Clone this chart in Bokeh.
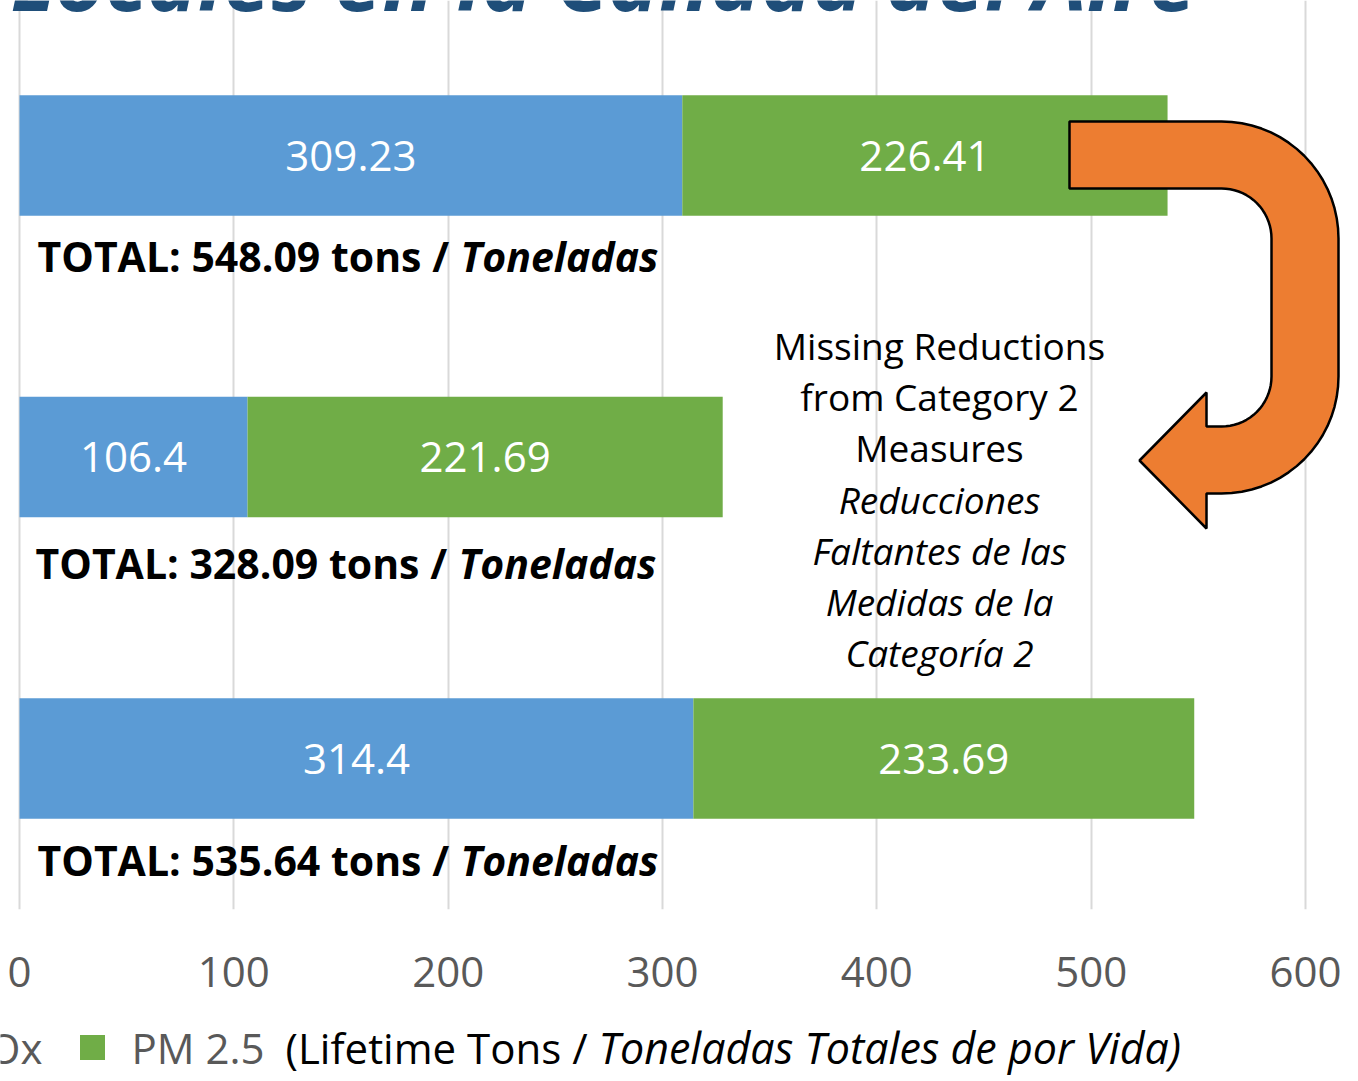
import math
from bokeh.plotting import figure
from bokeh.layouts import column
from bokeh.models import Range1d, FixedTicker
from bokeh.core.properties import value
from bokeh.embed import file_html
from bokeh.resources import INLINE

# ---------------- data ----------------
scenarios = [0, 1, 2]  # category index, top to bottom
nox = [309.23, 106.4, 314.4]
pm25 = [226.41, 221.69, 233.69]
total_text = ["TOTAL: 548.09 tons / ", "TOTAL: 328.09 tons / ", "TOTAL: 535.64 tons / "]
total_italic = ["Toneladas", "Toneladas", "Toneladas"]
x_ticks = [0, 100, 200, 300, 400, 500, 600]
note_en = ["Missing Reductions", "from Category 2", "Measures"]
note_es = ["Reducciones", "Faltantes de las", "Medidas de la", "Categoría 2"]
title_text = "Locales en la Calidad del Aire"
legend_names = ["NOx", "PM 2.5"]
legend_colors = ["#5B9BD5", "#70AD47"]
legend_note = "(Lifetime Tons /"
legend_note_it = "Toneladas Totales de por Vida)"

# ---------------- styling / layout ----------------
BLUE = "#5B9BD5"
GREEN = "#70AD47"
ORANGE = "#ED7D31"
GREY = "#595959"
FONT = value("Open Sans")
W = 1358
H_MAIN = 1020
H_LEG = 61
FRAME_BOTTOM = 909


def dx(sx):  # pixel -> data x
    return (sx - 19) * 600.0 / 1286.0


def dy(sy):  # pixel -> data y (category units)
    return (sy - 155) / 301.5


p = figure(width=W, height=H_MAIN, output_backend="svg", toolbar_location=None,
           x_range=Range1d(dx(0), dx(W)),
           y_range=Range1d(dy(FRAME_BOTTOM), dy(0)),
           min_border_left=0, min_border_right=0, min_border_top=0,
           min_border_bottom=H_MAIN - FRAME_BOTTOM, y_axis_location=None)
p.outline_line_color = None
p.background_fill_color = "white"
p.border_fill_color = "white"
p.ygrid.visible = False
p.xgrid.ticker = FixedTicker(ticks=x_ticks)
p.xgrid.grid_line_color = "#D9D9D9"
p.xgrid.grid_line_width = 2

ax = p.xaxis[0]
ax.ticker = FixedTicker(ticks=x_ticks)
ax.axis_line_color = None
ax.major_tick_line_color = None
ax.minor_tick_line_color = None
ax.major_tick_out = 0
ax.major_tick_in = 0
ax.major_label_standoff = 47
ax.major_label_text_font = "Open Sans"
ax.major_label_text_font_size = "42px"
ax.major_label_text_color = GREY

# title (cut off at top of page)
p.text(x=[dx(10)], y=[dy(35)], text=[title_text], text_font=FONT,
       text_font_size="86px", text_font_style="bold italic", text_color="#1F4E79",
       text_align="left", text_baseline="bottom")

# bars
totals = [a + b for a, b in zip(nox, pm25)]
p.hbar(y=scenarios, left=0, right=nox, height=0.4, fill_color=BLUE, line_color=None)
p.hbar(y=scenarios, left=nox, right=totals, height=0.4, fill_color=GREEN, line_color=None)

# value labels
p.text(x=[v / 2 for v in nox], y=scenarios, text=[str(v) for v in nox],
       text_font=FONT, text_font_size="42px", text_color="white",
       text_align="center", text_baseline="middle")
p.text(x=[a + b / 2 for a, b in zip(nox, pm25)], y=scenarios, text=[str(v) for v in pm25],
       text_font=FONT, text_font_size="42px", text_color="white",
       text_align="center", text_baseline="middle")

# TOTAL labels
tot_y = [dy(255), dy(562), dy(859)]
tot_x0 = [dx(37), dx(35), dx(37)]
tot_x1 = [dx(658), dx(656), dx(658)]
p.text(x=tot_x0, y=tot_y, text=total_text, text_font=FONT, text_font_size="41px",
       text_font_style="bold", text_color="black", text_align="left", text_baseline="middle")
p.text(x=tot_x1, y=tot_y, text=total_italic, text_font=FONT, text_font_size="41px",
       text_font_style="bold italic", text_color="black", text_align="right",
       text_baseline="middle")

# note text
lines = note_en + note_es
styles = ["normal"] * len(note_en) + ["italic"] * len(note_es)
p.text(x=[dx(939)] * len(lines), y=[dy(345 + 51.2 * k) for k in range(len(lines))],
       text=lines, text_font=FONT, text_font_size="37px", text_font_style=styles,
       text_color="black", text_align="center", text_baseline="middle")

# U-turn arrow (built in pixels, converted through the scales)
pts = [(1069, 121)]
for a in range(-90, 1, 5):
    t = math.radians(a)
    pts.append((1221 + 117 * math.cos(t), 238 + 117 * math.sin(t)))
for a in range(0, 91, 5):
    t = math.radians(a)
    pts.append((1221 + 117 * math.cos(t), 376 + 117 * math.sin(t)))
pts += [(1206, 493), (1206, 528), (1139, 460), (1206, 392), (1206, 426)]
for a in range(90, -1, -5):
    t = math.radians(a)
    pts.append((1221 + 50 * math.cos(t), 376 + 50 * math.sin(t)))
for a in range(0, -91, -5):
    t = math.radians(a)
    pts.append((1221 + 50 * math.cos(t), 238 + 50 * math.sin(t)))
pts.append((1069, 188))
p.patch(x=[dx(a) for a, b in pts], y=[dy(b) for a, b in pts], fill_color=ORANGE,
        line_color="black", line_width=2.5)

# ---------------- legend row ----------------
lg = figure(width=W, height=H_LEG, output_backend="svg", toolbar_location=None,
            x_range=Range1d(0, W), y_range=Range1d(H_LEG, 0),
            min_border_left=0, min_border_right=0, min_border_top=0, min_border_bottom=0,
            x_axis_location=None, y_axis_location=None)
lg.outline_line_color = None
lg.xgrid.visible = False
lg.ygrid.visible = False
ly = 1047 - H_MAIN
lg.scatter(x=[-75, 92], y=[ly, ly], marker="square", size=25,
           fill_color=legend_colors, line_color=None)
lg.text(x=[42], y=[ly], text=[legend_names[0]], text_font=FONT, text_font_size="42px",
        text_color=GREY, text_align="right", text_baseline="middle")
lg.text(x=[131], y=[ly], text=[legend_names[1]], text_font=FONT, text_font_size="42px",
        text_color=GREY, text_align="left", text_baseline="middle")
lg.text(x=[285], y=[ly], text=[legend_note], text_font=FONT, text_font_size="42px",
        text_color="black", text_align="left", text_baseline="middle")
lg.text(x=[598], y=[ly], text=[legend_note_it], text_font=FONT, text_font_size="43px",
        text_font_style="italic", text_color="black", text_align="left",
        text_baseline="middle")

layout = column(p, lg, spacing=0)
open("out.html", "w").write(file_html(layout, INLINE))
